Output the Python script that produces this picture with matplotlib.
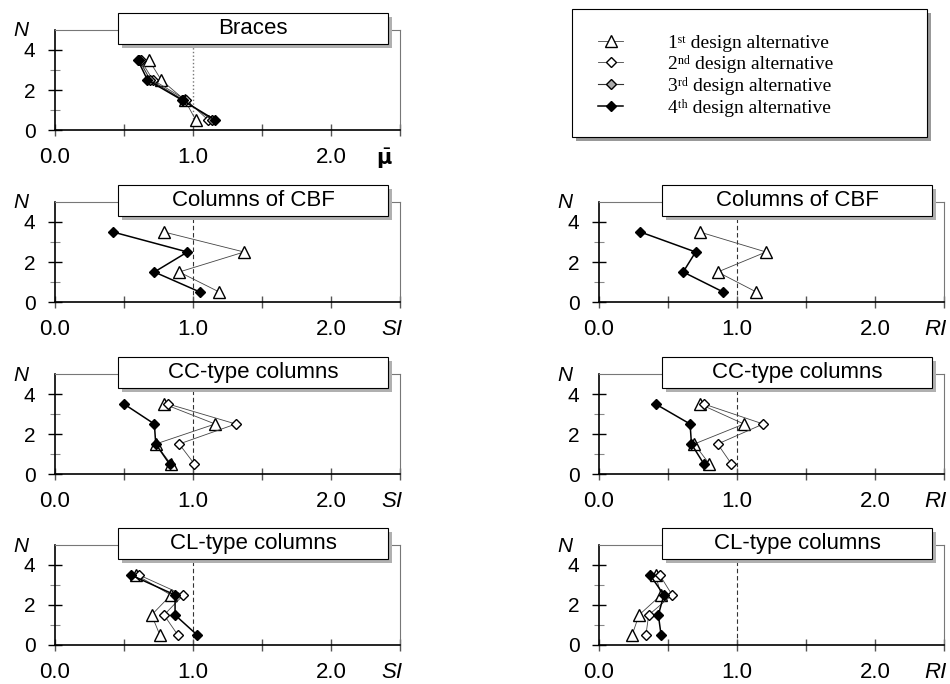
import matplotlib.pyplot as plt
from matplotlib import transforms
from matplotlib.patches import Rectangle
from matplotlib.font_manager import FontProperties

plt.rcParams["font.family"] = ["Liberation Sans", "DejaVu Sans"]

# storey levels where the indices are plotted
storeys = [3.5, 2.5, 1.5, 0.5]

alt_labels = [
    "1\u02e2\u1d57 design alternative",
    "2\u207f\u1d48 design alternative",
    "3\u02b3\u1d48 design alternative",
    "4\u1d57\u02b0 design alternative",
]

# Braces, mean ductility
braces_alt1 = [0.68, 0.77, 0.94, 1.02]
braces_alt2 = [0.62, 0.71, 0.95, 1.11]
braces_alt3 = [0.61, 0.69, 0.93, 1.14]
braces_alt4 = [0.60, 0.67, 0.92, 1.16]

# Columns of CBF
cbf_si_alt1 = [0.79, 1.37, 0.90, 1.19]
cbf_si_alt4 = [0.42, 0.96, 0.72, 1.05]
cbf_ri_alt1 = [0.73, 1.21, 0.86, 1.14]
cbf_ri_alt4 = [0.30, 0.70, 0.61, 0.90]

# CC-type columns
cc_si_alt1 = [0.79, 1.16, 0.73, 0.84]
cc_si_alt2 = [0.82, 1.31, 0.90, 1.01]
cc_si_alt4 = [0.50, 0.72, 0.73, 0.83]
cc_ri_alt1 = [0.73, 1.05, 0.69, 0.80]
cc_ri_alt2 = [0.76, 1.19, 0.86, 0.96]
cc_ri_alt4 = [0.41, 0.66, 0.67, 0.76]

# CL-type columns
cl_si_alt1 = [0.59, 0.84, 0.70, 0.76]
cl_si_alt2 = [0.61, 0.93, 0.79, 0.89]
cl_si_alt4 = [0.55, 0.87, 0.87, 1.03]
cl_ri_alt1 = [0.41, 0.45, 0.29, 0.24]
cl_ri_alt2 = [0.44, 0.53, 0.36, 0.34]
cl_ri_alt4 = [0.37, 0.47, 0.43, 0.45]

styles = [
    dict(marker="^", mfc="white", mec="black", color="#444444", lw=0.6, ms=8),
    dict(marker="D", mfc="white", mec="black", color="#444444", lw=0.6, ms=5),
    dict(marker="D", mfc="#aaaaaa", mec="black", color="#333333", lw=0.8, ms=5),
    dict(marker="D", mfc="black", mec="black", color="black", lw=1.1, ms=5),
]

panels = [
    (0, 0, "Braces", "$\\bar{\\mathbf{\\mu}}$",
     [braces_alt1, braces_alt2, braces_alt3, braces_alt4]),
    (1, 0, "Columns of CBF", "SI", [cbf_si_alt1, None, None, cbf_si_alt4]),
    (1, 1, "Columns of CBF", "RI", [cbf_ri_alt1, None, None, cbf_ri_alt4]),
    (2, 0, "CC-type columns", "SI", [cc_si_alt1, cc_si_alt2, None, cc_si_alt4]),
    (2, 1, "CC-type columns", "RI", [cc_ri_alt1, cc_ri_alt2, None, cc_ri_alt4]),
    (3, 0, "CL-type columns", "SI", [cl_si_alt1, cl_si_alt2, None, cl_si_alt4]),
    (3, 1, "CL-type columns", "RI", [cl_ri_alt1, cl_ri_alt2, None, cl_ri_alt4]),
]

W, H = 950, 684
fig = plt.figure(figsize=(9.5, 6.84), dpi=100)

col_left = [55, 599]
row_bottom = [130, 302, 474, 645]
ax_w, ax_h = 345, 100

handles = []
for row, col, title, xlab, series in panels:
    ax = fig.add_axes([col_left[col] / W, 1 - row_bottom[row] / H, ax_w / W, ax_h / H])
    ax.set_xlim(0, 2.5)
    ax.set_ylim(0, 5)

    if title == "Braces":
        ax.axvline(1.0, color="#777777", ls=":", lw=1.0, zorder=1)
    else:
        ax.axvline(1.0, color="#333333", ls=(0, (4, 2.5)), lw=0.8, zorder=1)

    for vals, st in zip(series, styles):
        if vals is None:
            continue
        (ln,) = ax.plot(vals, storeys, zorder=3, **st)
        if row == 0:
            handles.append(ln)

    for side in ["top", "right"]:
        ax.spines[side].set_color("#777777")
        ax.spines[side].set_linewidth(0.8)
    for side in ["left", "bottom"]:
        ax.spines[side].set_color("black")
        ax.spines[side].set_linewidth(1.2)

    ax.set_xticks([0, 0.5, 1.0, 1.5, 2.0, 2.5])
    ax.set_xticklabels(["0.0", "", "1.0", "", "2.0", ""])
    ax.tick_params(axis="x", direction="inout", length=8, width=1.0,
                   color="#555555", pad=8, labelsize=16)
    ax.set_yticks([0, 2, 4])
    ax.set_yticks([1, 3], minor=True)
    ax.tick_params(axis="y", which="major", direction="inout", length=10,
                   width=1.0, color="black", pad=9, labelsize=15)
    ax.tick_params(axis="y", which="minor", direction="inout", length=7,
                   width=0.8, color="#888888")

    # axis labels
    ax.text(-0.10, 0.99, "N", transform=ax.transAxes, fontsize=15,
            style="italic", ha="center", va="center")
    if title == "Braces":
        ax.annotate(xlab, xy=(2.39, 0), xycoords=("data", "axes fraction"),
                    xytext=(0, -12), textcoords="offset points", ha="center",
                    va="top", fontsize=15)
    else:
        ax.annotate(xlab, xy=(2.52, 0), xycoords=("data", "axes fraction"),
                    xytext=(0, -12), textcoords="offset points", ha="right",
                    va="top", fontsize=16, style="italic")

    # title box with shadow
    bx0, by0, bw, bh = 0.183, 0.86, 0.782, 0.31
    shadow_tr = transforms.offset_copy(ax.transAxes, fig=fig, x=4, y=-4, units="dots")
    ax.add_patch(Rectangle((bx0, by0), bw, bh, transform=shadow_tr,
                           fc="#b0b0b0", ec="none", clip_on=False, zorder=9))
    ax.add_patch(Rectangle((bx0, by0), bw, bh, transform=ax.transAxes,
                           fc="white", ec="black", lw=0.8, clip_on=False, zorder=10))
    ax.text(bx0 + bw / 2, by0 + bh / 2, title, transform=ax.transAxes,
            fontsize=16, ha="center", va="center", zorder=11)

# legend box with shadow
lx0, ly0, lw_, lh = 572, 137, 355, 128
fig.patches.append(Rectangle(((lx0 + 4) / W, 1 - (ly0 + 4) / H), lw_ / W, lh / H,
                             transform=fig.transFigure, fc="#999999", ec="none", zorder=1))
fig.patches.append(Rectangle((lx0 / W, 1 - ly0 / H), lw_ / W, lh / H,
                             transform=fig.transFigure, fc="white", ec="black",
                             lw=0.8, zorder=2))
leg_font = FontProperties(family=["Liberation Serif", "DejaVu Serif"], size=14)
fig.legend(handles, alt_labels, loc="upper left", bbox_to_anchor=(598 / W, 1 - 34 / H),
           frameon=False, prop=leg_font, handlelength=1.3, handletextpad=2.3,
           labelspacing=0.19, borderpad=0, borderaxespad=0)

plt.savefig("out.png", dpi=100)
